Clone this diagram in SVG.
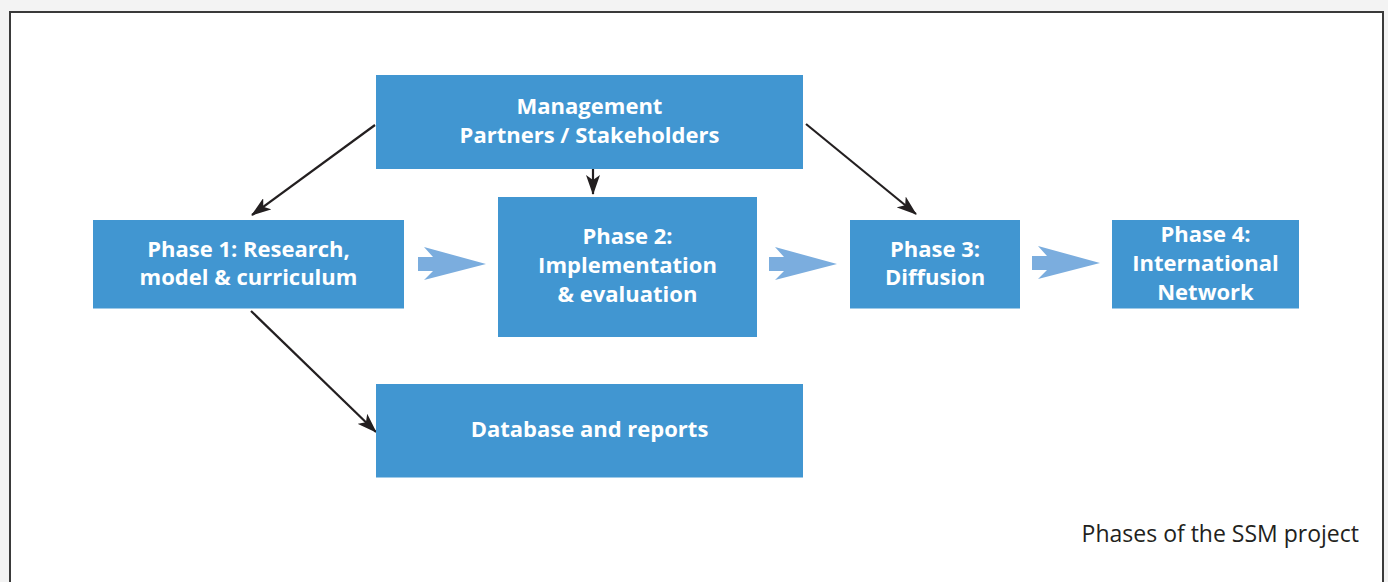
<svg xmlns="http://www.w3.org/2000/svg" width="1388" height="582" viewBox="0 0 1388 582">
<style>
.box{fill:#4196d1}
.lbl{font-family:"Open Sans","Noto Sans","Liberation Sans",sans-serif;font-weight:bold;font-size:22px;fill:#ffffff;text-anchor:middle}
.cap{font-family:"Open Sans","Noto Sans","Liberation Sans",sans-serif;font-size:23px;fill:#231f20;text-anchor:end}
.con{stroke:#231f20;stroke-width:2.2;fill:none;marker-end:url(#ah)}
.fat{fill:#7badde}
</style>
<defs>
<marker id="ah" viewBox="0 0 20 14" refX="19" refY="7" markerWidth="20" markerHeight="14" markerUnits="userSpaceOnUse" orient="auto">
<path d="M0,0 L20,7 L0,14 L5,7 Z" fill="#231f20"/>
</marker>
</defs>
<rect x="0" y="0" width="1388" height="582" fill="#f3f3f3"/>
<rect x="10" y="12" width="1373" height="600" fill="#ffffff" stroke="#3a3a3a" stroke-width="2"/>

<g id="connectors">
<line class="con" x1="375" y1="125" x2="252" y2="215"/>
<line class="con" x1="593" y1="168" x2="593" y2="194"/>
<line class="con" x1="806" y1="124" x2="916" y2="214"/>
<line class="con" x1="251" y1="311" x2="376" y2="432"/>
<polygon class="fat" points="418,257 433,257 424,247 486,264 424,280 433,271 418,271"/>
<polygon class="fat" points="769,257 784,257 775,247 837,264 775,280 784,271 769,271"/>
<polygon class="fat" points="1032,256 1047,256 1038,246 1100,263 1038,279 1047,270 1032,270"/>
</g>

<g id="management">
<rect class="box" x="376" y="75" width="427" height="94"/>
<text class="lbl" x="589.5" y="114">Management</text>
<text class="lbl" x="589.5" y="143">Partners / Stakeholders</text>
</g>
<g id="phase1">
<rect class="box" x="93" y="220" width="311" height="88.5"/>
<text class="lbl" x="248.5" y="256.5">Phase 1: Research,</text>
<text class="lbl" x="248.5" y="285">model &amp; curriculum</text>
</g>
<g id="phase2">
<rect class="box" x="498" y="197" width="259" height="140"/>
<text class="lbl" x="627.5" y="243.5">Phase 2:</text>
<text class="lbl" x="627.5" y="272.5">Implementation</text>
<text class="lbl" x="627.5" y="301.5">&amp; evaluation</text>
</g>
<g id="phase3">
<rect class="box" x="850" y="220" width="170" height="88.5"/>
<text class="lbl" x="935" y="257">Phase 3:</text>
<text class="lbl" x="935" y="285">Diffusion</text>
</g>
<g id="phase4">
<rect class="box" x="1112" y="220" width="187" height="88.5"/>
<text class="lbl" x="1205.5" y="241.5">Phase 4:</text>
<text class="lbl" x="1205.5" y="270.5">International</text>
<text class="lbl" x="1205.5" y="299.5">Network</text>
</g>
<g id="database">
<rect class="box" x="376" y="384" width="427" height="93.5"/>
<text class="lbl" x="589.5" y="436.5">Database and reports</text>
</g>
<text class="cap" x="1359" y="541.5">Phases of the SSM project</text>
</svg>
